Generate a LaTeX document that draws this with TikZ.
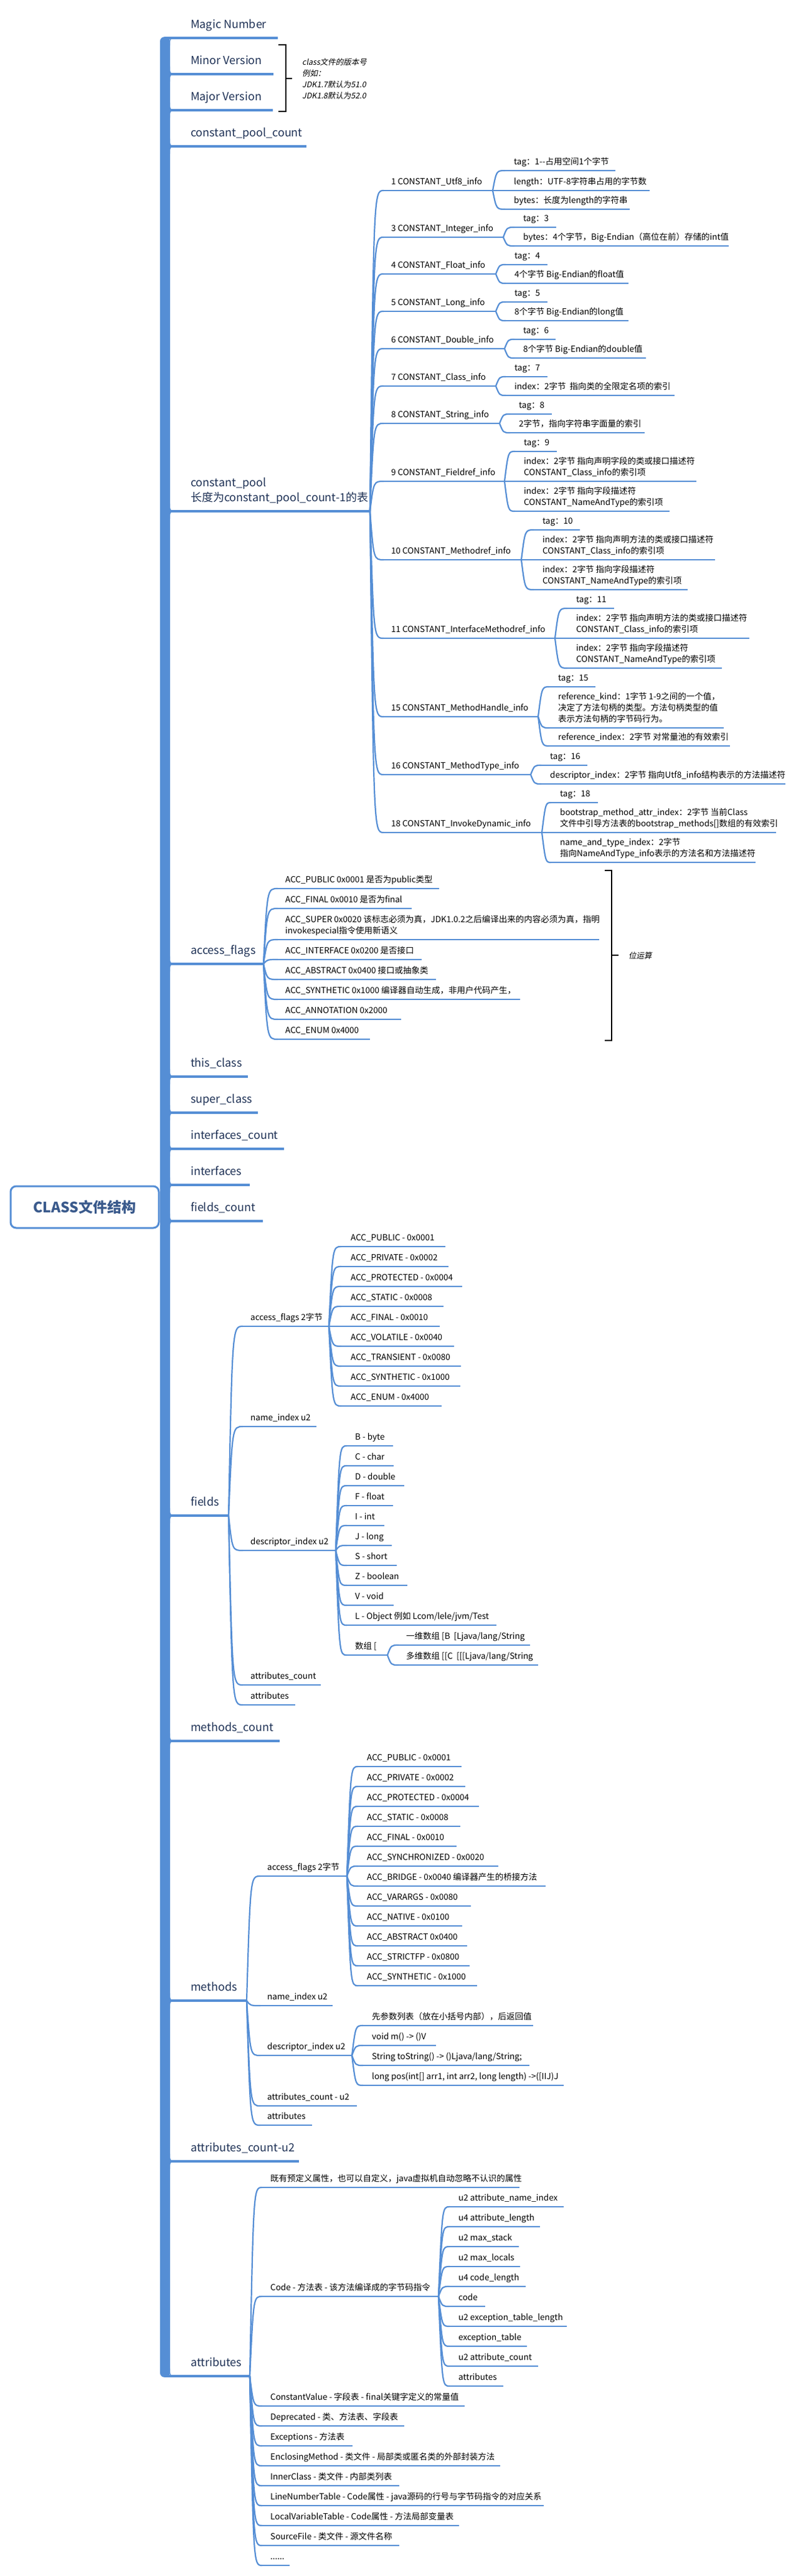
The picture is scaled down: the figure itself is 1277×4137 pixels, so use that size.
\documentclass[tikz,border=0pt]{standalone}
\usepackage{fontspec}
\setmainfont{Noto Sans CJK SC}
\newfontfamily\noteit{Noto Sans CJK SC}[FakeSlant=0.2]
\usetikzlibrary{calc}
\definecolor{bl}{HTML}{558ED5}
\definecolor{navy}{HTML}{1F3256}
\definecolor{rootc}{HTML}{3A5A8C}
\tikzset{
  lv1/.style={font=\fontsize{18}{24}\selectfont, text=navy, inner xsep=0pt, inner ysep=8.3pt, align=left},
  lv1 line/.style={draw=bl, line width=3.5pt},
  lv2/.style={font=\fontsize{13.5}{18}\selectfont, text=black, inner xsep=0pt, inner ysep=3.6pt, align=left},
  lv2 line/.style={draw=bl, line width=2.2pt},
  conn/.style={draw=bl, line width=2.2pt},
  bracket/.style={draw=black, line width=2pt},
  note/.style={font=\noteit\fontsize{12.5}{18}\selectfont, text=black, align=left, inner sep=0pt},
  root/.style={draw=bl, line width=3pt, rounded corners=9pt, fill=white, minimum width=238pt, minimum height=67pt, font=\bfseries\fontsize{23}{28}\selectfont, text=rootc}
}
% topic: name, style, line start x, text x, line end x, line y, text
\newcommand\Tp[7]{%
  \coordinate (#1-s) at (#3,#6);
  \coordinate (#1-e) at (#5,#6);
  \draw[#2 line] (#1-s) -- (#1-e);
  \node[#2, anchor=south west] (#1) at (#4,#6) {#7\strut};
}
\newcommand\Cn[2]{\draw[conn] (#1-e) .. controls ($(#1-e |- #2-s)+(6,0)$) .. (#2-s);}
\newcommand\FilU[1]{\fill[bl] (273,#1-12) .. controls (273,#1) .. (291,#1) -- (273,#1) -- cycle;}
\newcommand\FilD[1]{\fill[bl] (273,#1+12) .. controls (273,#1) .. (291,#1) -- (273,#1) -- cycle;}
\begin{document}
\begin{tikzpicture}[x=1pt,y=-1pt]
\fill[white] (0,0) rectangle (1277,4137);
\path[use as bounding box] (0,0) rectangle (1277,4137);

% ---------- level 1 ----------
\Tp{mg}{lv1}{265}{306}{446}{61}{Magic Number}
\Tp{mi}{lv1}{265}{306}{439}{119}{Minor Version}
\Tp{mj}{lv1}{265}{306}{438}{177}{Major Version}
\Tp{cpc}{lv1}{265}{306}{492}{235}{constant\_pool\_count}
\Tp{cp}{lv1}{265}{306}{594}{821}{constant\_pool\\长度为constant\_pool\_count-1的表}
\Tp{af}{lv1}{265}{306}{423}{1548}{access\_flags}
\Tp{tc}{lv1}{265}{306}{398}{1729}{this\_class}
\Tp{sc}{lv1}{265}{306}{414}{1787}{super\_class}
\Tp{ic}{lv1}{265}{306}{456}{1845}{interfaces\_count}
\Tp{itf}{lv1}{265}{306}{401}{1903}{interfaces}
\Tp{fc}{lv1}{265}{306}{422}{1961}{fields\_count}
\Tp{fd}{lv1}{265}{306}{367}{2434}{fields}
\Tp{mc}{lv1}{265}{306}{449}{2796}{methods\_count}
\Tp{md}{lv1}{265}{306}{396}{3213}{methods}
\Tp{ac}{lv1}{265}{306}{480}{3471}{attributes\_count-u2}
\Tp{at}{lv1}{265}{306}{401}{3816}{attributes}

% trunk
\fill[bl, rounded corners=7pt] (257,59.2) rectangle (273,3817.8);
\FilD{61}
\foreach \y in {119,177,235,821,1548,1729,1787,1845,1903,1961,2434,2796,3213,3471} {\FilU{\y}\FilD{\y}}
\FilU{3816}
\coordinate (tk) at (265,1938.5);

% root
\node[root] (root) at (136,1938.5) {CLASS文件结构};
\draw[lv1 line] (root.east) -- (tk);

% version bracket
\coordinate (vb1) at (447,72);
\coordinate (vb2) at (447,179);
\draw[bracket] (vb1) -- (459,72) -- (459,179) -- (vb2);
\coordinate (vbt) at (469,126);
\draw[bracket] (459,126) -- (vbt);
\node[note, anchor=west] (vnote) at (485,127) {class文件的版本号\\例如：\\JDK1.7默认为51.0\\JDK1.8默认为52.0};

% ---------- constant pool ----------
\Tp{u8}{lv2}{616}{628}{791}{306}{1 CONSTANT\_Utf8\_info}
\Tp{ci}{lv2}{616}{628}{808}{381}{3 CONSTANT\_Integer\_info}
\Tp{cf}{lv2}{616}{628}{796}{440}{4 CONSTANT\_Float\_info}
\Tp{cl}{lv2}{616}{628}{796}{500}{5 CONSTANT\_Long\_info}
\Tp{cd}{lv2}{616}{628}{810}{560}{6 CONSTANT\_Double\_info}
\Tp{cc}{lv2}{616}{628}{796}{620}{7 CONSTANT\_Class\_info}
\Tp{cs}{lv2}{616}{628}{802}{680}{8 CONSTANT\_String\_info}
\Tp{fr}{lv2}{616}{628}{810}{773}{9 CONSTANT\_Fieldref\_info}
\Tp{mr}{lv2}{616}{628}{837}{899}{10 CONSTANT\_Methodref\_info}
\Tp{imr}{lv2}{616}{628}{891}{1025}{11 CONSTANT\_InterfaceMethodref\_info}
\Tp{mh}{lv2}{616}{628}{864}{1151}{15 CONSTANT\_MethodHandle\_info}
\Tp{mt}{lv2}{616}{628}{852}{1244}{16 CONSTANT\_MethodType\_info}
\Tp{idy}{lv2}{616}{628}{870}{1337}{18 CONSTANT\_InvokeDynamic\_info}
\foreach \c in {u8,ci,cf,cl,cd,cc,cs,fr,mr,imr,mh,mt,idy} {\Cn{cp}{\c}}

\Tp{u8a}{lv2}{811}{825}{988}{274}{tag：1-{}-占用空间1个字节}
\Tp{u8b}{lv2}{811}{825}{1043}{306}{length：UTF-8字符串占用的字节数}
\Tp{u8c}{lv2}{811}{825}{1011}{336}{bytes：长度为length的字符串}
\foreach \c in {u8a,u8b,u8c} {\Cn{u8}{\c}}

\Tp{cia}{lv2}{826}{840}{893}{365}{tag：3}
\Tp{cib}{lv2}{826}{840}{1170}{395}{bytes：4个字节，Big-Endian（高位在前）存储的int值}
\foreach \c in {cia,cib} {\Cn{ci}{\c}}

\Tp{cfa}{lv2}{812}{826}{879}{425}{tag：4}
\Tp{cfb}{lv2}{812}{826}{1009}{455}{4个字节 Big-Endian的float值}
\foreach \c in {cfa,cfb} {\Cn{cf}{\c}}

\Tp{cla}{lv2}{812}{826}{879}{485}{tag：5}
\Tp{clb}{lv2}{812}{826}{1009}{515}{8个字节 Big-Endian的long值}
\foreach \c in {cla,clb} {\Cn{cl}{\c}}

\Tp{cda}{lv2}{826}{840}{892}{545}{tag：6}
\Tp{cdb}{lv2}{826}{840}{1037}{575}{8个字节 Big-Endian的double值}
\foreach \c in {cda,cdb} {\Cn{cd}{\c}}

\Tp{cca}{lv2}{812}{826}{879}{605}{tag：7}
\Tp{ccb}{lv2}{812}{826}{1083}{635}{index：2字节\ \ 指向类的全限定名项的索引}
\foreach \c in {cca,ccb} {\Cn{cc}{\c}}

\Tp{csa}{lv2}{819}{833}{886}{665}{tag：8}
\Tp{csb}{lv2}{819}{833}{1035}{695}{2字节，指向字符串字面量的索引}
\foreach \c in {csa,csb} {\Cn{cs}{\c}}

\Tp{fra}{lv2}{827}{841}{894}{725}{tag：9}
\Tp{frb}{lv2}{827}{841}{1118}{773}{index：2字节 指向声明字段的类或接口描述符\\CONSTANT\_Class\_info的索引项}
\Tp{frc}{lv2}{827}{841}{1075}{821}{index：2字节 指向字段描述符\\CONSTANT\_NameAndType的索引项}
\foreach \c in {fra,frb,frc} {\Cn{fr}{\c}}

\Tp{mra}{lv2}{857}{871}{931}{851}{tag：10}
\Tp{mrb}{lv2}{857}{871}{1148}{899}{index：2字节 指向声明方法的类或接口描述符\\CONSTANT\_Class\_info的索引项}
\Tp{mrc}{lv2}{857}{871}{1104}{947}{index：2字节 指向字段描述符\\CONSTANT\_NameAndType的索引项}
\foreach \c in {mra,mrb,mrc} {\Cn{mr}{\c}}

\Tp{ima}{lv2}{911}{925}{986}{977}{tag：11}
\Tp{imb}{lv2}{911}{925}{1203}{1025}{index：2字节 指向声明方法的类或接口描述符\\CONSTANT\_Class\_info的索引项}
\Tp{imc}{lv2}{911}{925}{1159}{1073}{index：2字节 指向字段描述符\\CONSTANT\_NameAndType的索引项}
\foreach \c in {ima,imb,imc} {\Cn{imr}{\c}}

\Tp{mha}{lv2}{882}{896}{956}{1103}{tag：15}
\Tp{mhb}{lv2}{882}{896}{1162}{1169}{reference\_kind：1字节 1-9之间的一个值，\\决定了方法句柄的类型。方法句柄类型的值\\表示方法句柄的字节码行为。}
\Tp{mhc}{lv2}{882}{896}{1172}{1198}{reference\_index：2字节 对常量池的有效索引}
\foreach \c in {mha,mhb,mhc} {\Cn{mh}{\c}}

\Tp{mta}{lv2}{869}{883}{943}{1229}{tag：16}
\Tp{mtb}{lv2}{869}{883}{1261}{1259}{descriptor\_index：2字节 指向Utf8\_info结构表示的方法描述符}
\foreach \c in {mta,mtb} {\Cn{mt}{\c}}

\Tp{ida}{lv2}{885}{899}{960}{1289}{tag：18}
\Tp{idb}{lv2}{885}{899}{1246}{1337}{bootstrap\_method\_attr\_index：2字节 当前Class\\文件中引导方法表的bootstrap\_methods[]数组的有效索引}
\Tp{idc}{lv2}{885}{899}{1213}{1385}{name\_and\_type\_index：2字节\\指向NameAndType\_info表示的方法名和方法描述符}
\foreach \c in {ida,idb,idc} {\Cn{idy}{\c}}

% ---------- access_flags ----------
\Tp{afa}{lv2}{446}{458}{705}{1427}{ACC\_PUBLIC 0x0001 是否为public类型}
\Tp{afb}{lv2}{446}{458}{661}{1459}{ACC\_FINAL 0x0010 是否为final}
\Tp{afc}{lv2}{446}{458}{962}{1509}{ACC\_SUPER 0x0020 该标志必须为真，JDK1.0.2之后编译出来的内容必须为真，指明\\invokespecial指令使用新语义}
\Tp{afd}{lv2}{446}{458}{677}{1541}{ACC\_INTERFACE 0x0200 是否接口}
\Tp{afe}{lv2}{446}{458}{700}{1573}{ACC\_ABSTRACT 0x0400 接口或抽象类}
\Tp{aff}{lv2}{446}{458}{835}{1605}{ACC\_SYNTHETIC 0x1000 编译器自动生成，非用户代码产生，}
\Tp{afg}{lv2}{446}{458}{644}{1637}{ACC\_ANNOTATION 0x2000}
\Tp{afh}{lv2}{446}{458}{594}{1669}{ACC\_ENUM 0x4000}
\foreach \c in {afa,afb,afc,afd,afe,aff,afg,afh} {\Cn{af}{\c}}

\coordinate (ab1) at (971,1398);
\coordinate (ab2) at (971,1671);
\draw[bracket] (ab1) -- (982,1398) -- (982,1671) -- (ab2);
\coordinate (abt) at (993,1534);
\draw[bracket] (982,1534) -- (abt);
\node[note, anchor=west] (anote) at (1009,1535) {位运算};

% ---------- fields ----------
\Tp{ffa}{lv2}{390}{402}{528}{2130}{access\_flags 2字节}
\Tp{ffb}{lv2}{390}{402}{508}{2291}{name\_index u2}
\Tp{ffc}{lv2}{390}{402}{539}{2490}{descriptor\_index u2}
\Tp{ffd}{lv2}{390}{402}{515}{2706}{attributes\_count}
\Tp{ffe}{lv2}{390}{402}{474}{2738}{attributes}
\foreach \c in {ffa,ffb,ffc,ffd,ffe} {\Cn{fd}{\c}}

\Tp{fa1}{lv2}{548}{563}{715}{2002}{ACC\_PUBLIC - 0x0001}
\Tp{fa2}{lv2}{548}{563}{720}{2034}{ACC\_PRIVATE - 0x0002}
\Tp{fa3}{lv2}{548}{563}{742}{2066}{ACC\_PROTECTED - 0x0004}
\Tp{fa4}{lv2}{548}{563}{712}{2098}{ACC\_STATIC - 0x0008}
\Tp{fa5}{lv2}{548}{563}{706}{2130}{ACC\_FINAL - 0x0010}
\Tp{fa6}{lv2}{548}{563}{729}{2162}{ACC\_VOLATILE - 0x0040}
\Tp{fa7}{lv2}{548}{563}{740}{2194}{ACC\_TRANSIENT - 0x0080}
\Tp{fa8}{lv2}{548}{563}{739}{2226}{ACC\_SYNTHETIC - 0x1000}
\Tp{fa9}{lv2}{548}{563}{709}{2258}{ACC\_ENUM - 0x4000}
\foreach \c in {fa1,fa2,fa3,fa4,fa5,fa6,fa7,fa8,fa9} {\Cn{ffa}{\c}}

\Tp{fd1}{lv2}{557}{570}{631}{2322}{B - byte}
\Tp{fd2}{lv2}{557}{570}{632}{2354}{C - char}
\Tp{fd3}{lv2}{557}{570}{649}{2386}{D - double}
\Tp{fd4}{lv2}{557}{570}{631}{2418}{F - float}
\Tp{fd5}{lv2}{557}{570}{617}{2450}{I - int}
\Tp{fd6}{lv2}{557}{570}{629}{2482}{J - long}
\Tp{fd7}{lv2}{557}{570}{637}{2514}{S - short}
\Tp{fd8}{lv2}{557}{570}{654}{2546}{Z - boolean}
\Tp{fd9}{lv2}{557}{570}{632}{2578}{V - void}
\Tp{fd10}{lv2}{557}{570}{797}{2610}{L - Object 例如 Lcom/lele/jvm/Test}
\Tp{fd11}{lv2}{557}{570}{622}{2658}{数组 [}
\foreach \c in {fd1,fd2,fd3,fd4,fd5,fd6,fd7,fd8,fd9,fd10,fd11} {\Cn{ffc}{\c}}

\Tp{fda}{lv2}{640}{652}{851}{2642}{一维数组 [B\ \ [Ljava/lang/String}
\Tp{fdb}{lv2}{640}{652}{864}{2674}{多维数组 [[C\ \ [[[Ljava/lang/String}
\foreach \c in {fda,fdb} {\Cn{fd11}{\c}}

% ---------- methods ----------
\Tp{ma1}{lv2}{418}{429}{557}{3013}{access\_flags 2字节}
\Tp{ma2}{lv2}{418}{429}{534}{3221}{name\_index u2}
\Tp{ma3}{lv2}{418}{429}{565}{3301}{descriptor\_index u2}
\Tp{ma4}{lv2}{418}{429}{573}{3382}{attributes\_count - u2}
\Tp{ma5}{lv2}{418}{429}{501}{3413}{attributes}
\foreach \c in {ma1,ma2,ma3,ma4,ma5} {\Cn{md}{\c}}

\Tp{m1}{lv2}{575}{589}{741}{2837}{ACC\_PUBLIC - 0x0001}
\Tp{m2}{lv2}{575}{589}{747}{2869}{ACC\_PRIVATE - 0x0002}
\Tp{m3}{lv2}{575}{589}{769}{2901}{ACC\_PROTECTED - 0x0004}
\Tp{m4}{lv2}{575}{589}{739}{2933}{ACC\_STATIC - 0x0008}
\Tp{m5}{lv2}{575}{589}{733}{2965}{ACC\_FINAL - 0x0010}
\Tp{m6}{lv2}{575}{589}{800}{2997}{ACC\_SYNCHRONIZED - 0x0020}
\Tp{m7}{lv2}{575}{589}{876}{3029}{ACC\_BRIDGE - 0x0040 编译器产生的桥接方法}
\Tp{m8}{lv2}{575}{589}{756}{3061}{ACC\_VARARGS - 0x0080}
\Tp{m9}{lv2}{575}{589}{742}{3093}{ACC\_NATIVE - 0x0100}
\Tp{m10}{lv2}{575}{589}{750}{3125}{ACC\_ABSTRACT 0x0400}
\Tp{m11}{lv2}{575}{589}{754}{3157}{ACC\_STRICTFP - 0x0800}
\Tp{m12}{lv2}{575}{589}{766}{3189}{ACC\_SYNTHETIC - 0x1000}
\foreach \c in {m1,m2,m3,m4,m5,m6,m7,m8,m9,m10,m11,m12} {\Cn{ma1}{\c}}

\Tp{md1}{lv2}{583}{597}{856}{3253}{先参数列表（放在小括号内部），后返回值}
\Tp{md2}{lv2}{583}{597}{700}{3285}{void m() -> ()V}
\Tp{md3}{lv2}{583}{597}{850}{3317}{String toString() -> ()Ljava/lang/String;}
\Tp{md4}{lv2}{583}{597}{905}{3349}{long pos(int[] arr1, int arr2, long length) ->([IIJ)J}
\foreach \c in {md1,md2,md3,md4} {\Cn{ma3}{\c}}

% ---------- attributes ----------
\Tp{a1}{lv2}{421}{434}{834}{3513}{既有预定义属性，也可以自定义，java虚拟机自动忽略不认识的属性}
\Tp{a2}{lv2}{421}{434}{704}{3688}{Code - 方法表 - 该方法编译成的字节码指令}
\Tp{a3}{lv2}{421}{434}{746}{3864}{ConstantValue - 字段表 - final关键字定义的常量值}
\Tp{a4}{lv2}{421}{434}{649}{3896}{Deprecated - 类、方法表、字段表}
\Tp{a5}{lv2}{421}{434}{566}{3928}{Exceptions - 方法表}
\Tp{a6}{lv2}{421}{434}{803}{3960}{EnclosingMethod - 类文件 - 局部类或匿名类的外部封装方法}
\Tp{a7}{lv2}{421}{434}{641}{3992}{InnerClass - 类文件 - 内部类列表}
\Tp{a8}{lv2}{421}{434}{873}{4024}{LineNumberTable - Code属性 - java源码的行号与字节码指令的对应关系}
\Tp{a9}{lv2}{421}{434}{737}{4056}{LocalVariableTable - Code属性 - 方法局部变量表}
\Tp{a10}{lv2}{421}{434}{641}{4088}{SourceFile - 类文件 - 源文件名称}
\Tp{a11}{lv2}{421}{434}{465}{4120}{......}
\foreach \c in {a1,a2,a3,a4,a5,a6,a7,a8,a9,a10,a11} {\Cn{at}{\c}}

\Tp{c1}{lv2}{722}{736}{905}{3544}{u2 attribute\_name\_index}
\Tp{c2}{lv2}{722}{736}{867}{3576}{u4 attribute\_length}
\Tp{c3}{lv2}{722}{736}{833}{3608}{u2 max\_stack}
\Tp{c4}{lv2}{722}{736}{835}{3640}{u2 max\_locals}
\Tp{c5}{lv2}{722}{736}{844}{3672}{u4 code\_length}
\Tp{c6}{lv2}{722}{736}{779}{3704}{code}
\Tp{c7}{lv2}{722}{736}{910}{3736}{u2 exception\_table\_length}
\Tp{c8}{lv2}{722}{736}{846}{3768}{exception\_table}
\Tp{c9}{lv2}{722}{736}{864}{3800}{u2 attribute\_count}
\Tp{c10}{lv2}{722}{736}{808}{3832}{attributes}
\foreach \c in {c1,c2,c3,c4,c5,c6,c7,c8,c9,c10} {\Cn{a2}{\c}}
\end{tikzpicture}
\end{document}
